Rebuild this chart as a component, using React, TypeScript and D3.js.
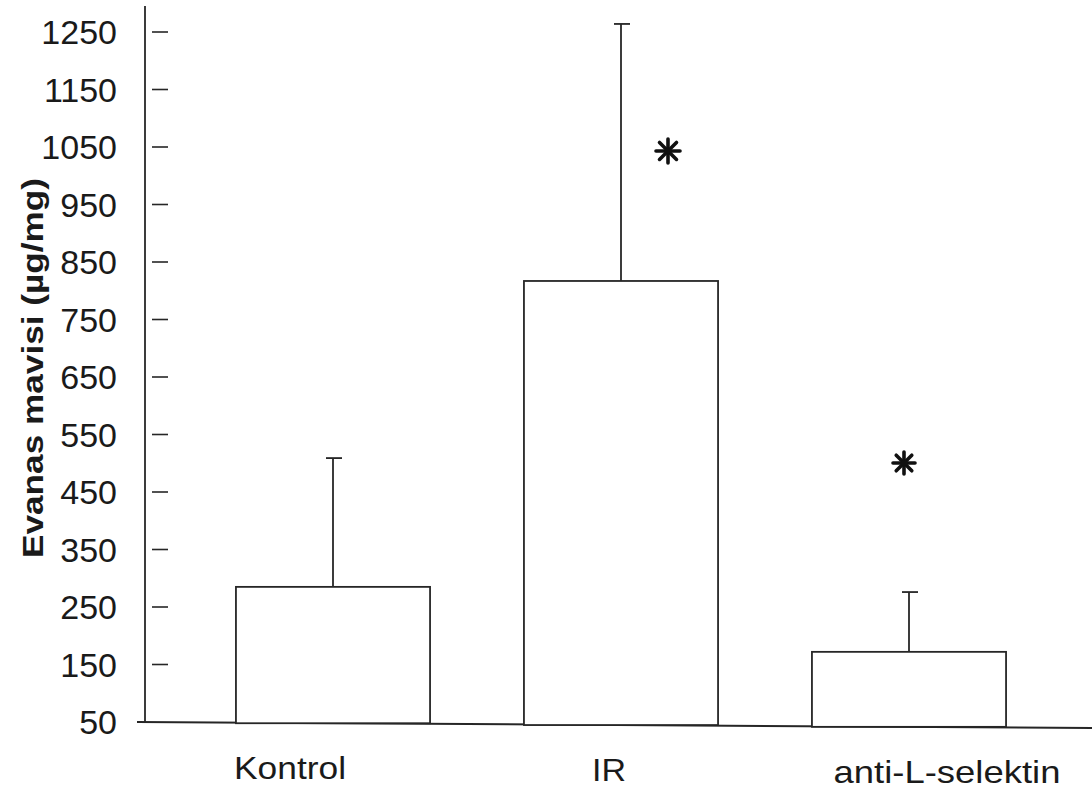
import React from "react";
import * as d3 from "d3";

const categories = ["Kontrol", "IR", "anti-L-selektin"];
const means = [285, 817, 172];
const errorTops = [509, 1264, 276];
const significant = [false, true, true];
const yTicks = [50, 150, 250, 350, 450, 550, 650, 750, 850, 950, 1050, 1150, 1250];
const yTitle = "Evanas mavisi (µg/mg)";

// layout only
const labelOffsets = [-43, -12, 38];
const labelWidths = [112, 34, 227];

const W = 1092;
const H = 792;

export default function App() {
  const y = d3.scaleLinear().domain([50, 1250]).range([722, 32]);
  const x = d3
    .scaleBand<string>()
    .domain(categories)
    .range([189, 1053])
    .paddingInner(0.326)
    .paddingOuter(0.163);
  const axisX = 145;
  const stroke = "#262626";
  const font = "'Liberation Sans', Arial, Helvetica, sans-serif";

  const asterisk = (cx: number, cy: number, r: number, key: string) => (
    <g key={key}>
      {d3.range(8).map((i) => {
        const a = (i * Math.PI) / 4;
        return (
          <line
            key={i}
            x1={cx}
            y1={cy}
            x2={cx + r * Math.cos(a)}
            y2={cy + r * Math.sin(a)}
            stroke="#111"
            strokeWidth={3.6}
            strokeLinecap="round"
          />
        );
      })}
      <circle cx={cx} cy={cy} r={3} fill="#111" />
    </g>
  );

  return (
    <svg
      width={W}
      height={H}
      style={{ position: "absolute", left: 0, top: 0, display: "block", background: "#fff" }}
    >
      <rect width={W} height={H} fill="#fff" />
      <line x1={axisX} y1={6} x2={axisX} y2={y(50)} stroke={stroke} strokeWidth={1.8} />
      <line x1={137} y1={y(50)} x2={W} y2={y(50) + 6} stroke={stroke} strokeWidth={2} />
      {yTicks.map((t) => (
        <g key={t}>
          {t !== 50 && (
            <line x1={152} x2={168} y1={y(t)} y2={y(t)} stroke={stroke} strokeWidth={1.6} />
          )}
          <text
            x={117}
            y={y(t)}
            dy="0.36em"
            textAnchor="end"
            fontFamily={font}
            fontSize={34}
            fill="#1a1a1a"
          >
            {t}
          </text>
        </g>
      ))}
      <text
        transform={`translate(43, 368) rotate(-90)`}
        textAnchor="middle"
        fontFamily={font}
        fontWeight="bold"
        fontSize={30}
        fill="#1a1a1a"
        textLength={380}
        lengthAdjust="spacingAndGlyphs"
      >
        {yTitle}
      </text>
      {categories.map((c, i) => {
        const bx = x(c) as number;
        const bw = x.bandwidth();
        const cx = bx + bw / 2;
        const base = y(50) + (cx - 137) * (6 / (W - 137));
        return (
          <g key={c}>
            <line x1={cx} x2={cx} y1={y(means[i])} y2={y(errorTops[i])} stroke={stroke} strokeWidth={1.8} />
            <line x1={cx - 7} x2={cx + 9} y1={y(errorTops[i])} y2={y(errorTops[i])} stroke={stroke} strokeWidth={1.8} />
            <rect
              x={bx}
              y={y(means[i])}
              width={bw}
              height={base - y(means[i])}
              fill="#fff"
              stroke={stroke}
              strokeWidth={1.8}
            />
            <text
              x={cx + labelOffsets[i]}
              y={779 + i * 2}
              textAnchor="middle"
              fontFamily={font}
              fontSize={32}
              fill="#1a1a1a"
              textLength={labelWidths[i]}
              lengthAdjust="spacingAndGlyphs"
            >
              {c}
            </text>
            {significant[i] &&
              asterisk(
                cx + (i === 1 ? 47 : -5),
                y(errorTops[i]) + (i === 1 ? 127 : -129),
                i === 1 ? 12 : 11,
                "a" + i
              )}
          </g>
        );
      })}
    </svg>
  );
}
